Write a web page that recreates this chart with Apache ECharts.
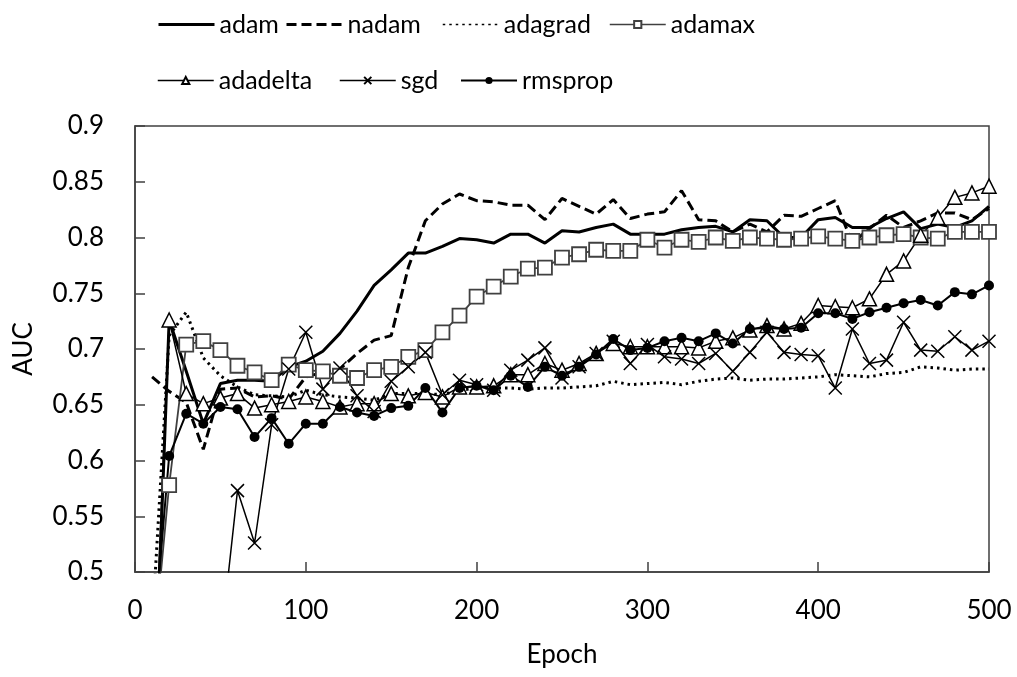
<!DOCTYPE html>
<html lang="en">
<head>
    <meta charset="UTF-8">
    <title>AUC vs Epoch</title>
    <script type="text/javascript" src="https://cdn.jsdelivr.net/npm/echarts@6/dist/echarts.min.js"></script>
    <style>
        html, body { margin: 0; padding: 0; background: #fff; }
    </style>
</head>
<body>
    <div id="main" style="width: 1017px;height:677px;"></div>
    <script type="text/javascript">
        // epochs 10..500, one value every 10 epochs
        const epochs = [10, 20, 30, 40, 50, 60, 70, 80, 90, 100,
            110, 120, 130, 140, 150, 160, 170, 180, 190, 200,
            210, 220, 230, 240, 250, 260, 270, 280, 290, 300,
            310, 320, 330, 340, 350, 360, 370, 380, 390, 400,
            410, 420, 430, 440, 450, 460, 470, 480, 490, 500];

        const adam = [0.32, 0.726, 0.68, 0.633, 0.669, 0.672, 0.672, 0.671, 0.684, 0.689,
            0.698, 0.714, 0.734, 0.757, 0.771, 0.786, 0.786, 0.792, 0.799, 0.798,
            0.795, 0.803, 0.803, 0.795, 0.806, 0.805, 0.809, 0.812, 0.803, 0.803,
            0.803, 0.807, 0.809, 0.810, 0.805, 0.816, 0.815, 0.800, 0.800, 0.816,
            0.818, 0.809, 0.809, 0.817, 0.823, 0.808, 0.812, 0.809, 0.815, 0.828];

        const nadam = [0.675, 0.662, 0.652, 0.610, 0.664, 0.665, 0.657, 0.658, 0.655, 0.675,
            0.679, 0.682, 0.696, 0.708, 0.712, 0.773, 0.815, 0.830, 0.839, 0.833,
            0.832, 0.829, 0.829, 0.816, 0.835, 0.828, 0.821, 0.834, 0.817, 0.821,
            0.823, 0.842, 0.816, 0.815, 0.805, 0.812, 0.805, 0.820, 0.819, 0.826,
            0.833, 0.795, 0.808, 0.820, 0.809, 0.815, 0.822, 0.822, 0.816, 0.826];

        const adagrad = [0.45, 0.712, 0.733, 0.692, 0.676, 0.666, 0.659, 0.658, 0.657, 0.663,
            0.659, 0.657, 0.656, 0.654, 0.660, 0.660, 0.660, 0.659, 0.663, 0.665,
            0.665, 0.665, 0.664, 0.665, 0.665, 0.666, 0.667, 0.671, 0.668, 0.669,
            0.670, 0.668, 0.671, 0.673, 0.674, 0.672, 0.673, 0.673, 0.674, 0.675,
            0.677, 0.676, 0.675, 0.678, 0.679, 0.684, 0.683, 0.681, 0.682, 0.682];

        const adamax = [0.415, 0.578, 0.704, 0.707, 0.699, 0.685, 0.679, 0.672, 0.686, 0.681,
            0.680, 0.676, 0.674, 0.681, 0.684, 0.693, 0.699, 0.715, 0.730, 0.747,
            0.756, 0.765, 0.772, 0.773, 0.782, 0.785, 0.789, 0.788, 0.788, 0.798,
            0.791, 0.798, 0.796, 0.800, 0.797, 0.800, 0.799, 0.798, 0.799, 0.801,
            0.799, 0.797, 0.800, 0.802, 0.803, 0.800, 0.799, 0.805, 0.805, 0.805];

        const adadelta = [0.36, 0.726, 0.660, 0.651, 0.656, 0.660, 0.647, 0.650, 0.653, 0.657,
            0.653, 0.648, 0.651, 0.651, 0.660, 0.658, 0.661, 0.657, 0.666, 0.666,
            0.667, 0.677, 0.677, 0.687, 0.681, 0.687, 0.696, 0.705, 0.702, 0.702,
            0.702, 0.702, 0.701, 0.707, 0.710, 0.717, 0.721, 0.718, 0.723, 0.739,
            0.738, 0.737, 0.745, 0.767, 0.779, 0.802, 0.818, 0.836, 0.840, 0.846];

        const sgd = [0.41, 0.42, 0.40, 0.43, 0.433, 0.573, 0.526, 0.632, 0.682, 0.715,
            0.664, 0.683, 0.658, 0.644, 0.671, 0.684, 0.697, 0.659, 0.672, 0.668,
            0.663, 0.681, 0.690, 0.701, 0.674, 0.684, 0.696, 0.707, 0.687, 0.704,
            0.693, 0.691, 0.687, 0.696, 0.680, 0.697, 0.715, 0.697, 0.695, 0.694,
            0.665, 0.718, 0.687, 0.690, 0.724, 0.699, 0.698, 0.711, 0.699, 0.707];

        const rmsprop = [0.424, 0.604, 0.642, 0.633, 0.648, 0.646, 0.621, 0.638, 0.615, 0.633,
            0.633, 0.648, 0.643, 0.640, 0.647, 0.649, 0.665, 0.643, 0.665, 0.667,
            0.663, 0.676, 0.666, 0.684, 0.676, 0.684, 0.695, 0.709, 0.699, 0.701,
            0.707, 0.710, 0.707, 0.714, 0.705, 0.718, 0.719, 0.718, 0.719, 0.732,
            0.732, 0.727, 0.733, 0.737, 0.741, 0.744, 0.739, 0.751, 0.749, 0.757];

        const FONT = 'Lato';

        function pairs(values) {
            return epochs.map(function (e, i) { return [e, values[i]]; });
        }

        function line(name, values, extra) {
            return Object.assign({
                name: name,
                type: 'line',
                data: pairs(values),
                clip: true,
                symbol: 'none',
                lineStyle: { color: '#000', width: 1.5 },
                itemStyle: { color: '#000' },
                emphasis: { disabled: true }
            }, extra);
        }

        // one legend per entry so the two rows line up like the original
        function legendAt(name, left, top, lineWidth, plain) {
            const lg = {
                data: [name],
                left: left,
                top: top,
                itemWidth: 56,
                itemHeight: 9,
                lineStyle: { width: lineWidth },
                textStyle: { fontFamily: FONT, fontSize: 25, color: '#000' }
            };
            if (plain) {
                lg.itemStyle = { opacity: 0 };
            }
            return lg;
        }

        const myChart = echarts.init(document.getElementById('main'));
        option = {
            animation: false,
            backgroundColor: '#fff',
            legend: [
                legendAt('adam', 152, 7, 3, true),
                legendAt('nadam', 280, 7, 3, true),
                legendAt('adagrad', 437, 7, 1.5, true),
                legendAt('adamax', 604, 7, 1.5),
                legendAt('adadelta', 152, 63, 1.5),
                legendAt('sgd', 334, 63, 1.5),
                legendAt('rmsprop', 455, 63, 2)
            ],
            grid: {
                left: 135,
                right: 28,
                top: 126,
                bottom: 105,
                show: true,
                borderColor: '#404040',
                borderWidth: 1.5
            },
            xAxis: {
                type: 'value',
                min: 0,
                max: 500,
                interval: 100,
                name: 'Epoch',
                nameLocation: 'middle',
                nameGap: 70,
                nameTextStyle: { fontFamily: FONT, fontSize: 26, color: '#000' },
                axisLine: { lineStyle: { color: '#404040', width: 1.5 } },
                axisTick: { inside: true, length: 10, lineStyle: { color: '#404040', width: 1.5 } },
                axisLabel: { fontFamily: FONT, fontSize: 26, color: '#000', margin: 26 },
                splitLine: { show: false }
            },
            yAxis: {
                type: 'value',
                min: 0.5,
                max: 0.9,
                interval: 0.05,
                name: 'AUC',
                nameLocation: 'middle',
                nameGap: 98,
                nameTextStyle: { fontFamily: FONT, fontSize: 26, color: '#000' },
                axisLine: { lineStyle: { color: '#404040', width: 1.5 } },
                axisTick: { inside: true, length: 10, lineStyle: { color: '#404040', width: 1.5 } },
                axisLabel: { fontFamily: FONT, fontSize: 26, color: '#000', margin: 31 },
                splitLine: { show: false }
            },
            series: [
                line('adam', adam, {
                    lineStyle: { color: '#000', width: 3 }
                }),
                line('nadam', nadam, {
                    lineStyle: { color: '#000', width: 3, type: [10, 5] }
                }),
                line('adagrad', adagrad, {
                    lineStyle: { color: '#000', width: 3, type: [2.5, 4] }
                }),
                line('adamax', adamax, {
                    symbol: 'rect',
                    symbolSize: 14,
                    lineStyle: { color: '#404040', width: 1.8 },
                    itemStyle: { color: '#fff', borderColor: '#404040', borderWidth: 1.8 }
                }),
                line('adadelta', adadelta, {
                    symbol: 'triangle',
                    symbolSize: 14,
                    lineStyle: { color: '#000', width: 1.5 },
                    itemStyle: { color: '#fff', borderColor: '#000', borderWidth: 1.5 }
                }),
                line('sgd', sgd, {
                    symbol: 'path://M0,0L10,10M10,0L0,10',
                    symbolSize: 13,
                    lineStyle: { color: '#000', width: 1.5 },
                    itemStyle: { color: 'none', borderColor: '#000', borderWidth: 1.5 }
                }),
                line('rmsprop', rmsprop, {
                    symbol: 'circle',
                    symbolSize: 10,
                    lineStyle: { color: '#000', width: 2 },
                    itemStyle: { color: '#000' }
                })
            ]
        };
        myChart.setOption(option);
    </script>
</body>
</html>
